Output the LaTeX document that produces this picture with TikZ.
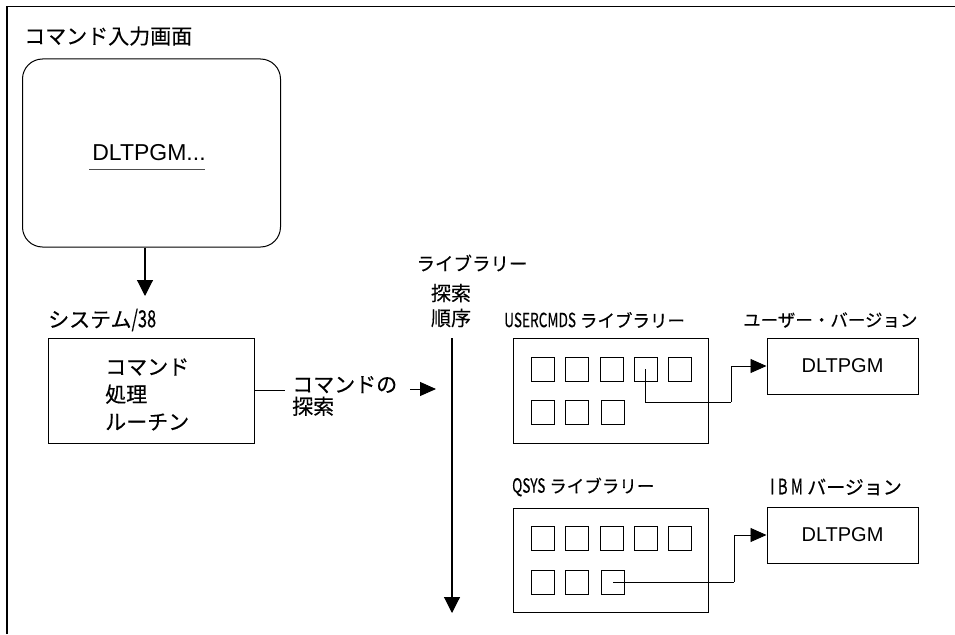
\documentclass[tikz,border=0pt]{standalone}
\usepackage{fontspec}
\usepackage{graphicx}
\setmainfont{Liberation Sans}
\newfontfamily\jp[FakeBold=0.3]{Noto Sans CJK JP}
\usetikzlibrary{arrows.meta}
\newcommand\nar[1]{\scalebox{0.78}[1.12]{#1}}
\newcommand\fs[1]{\fontsize{#1}{#1}\selectfont}
\begin{document}
\begin{tikzpicture}[x=1pt,y=-1pt,
  lbl/.style={inner sep=0pt,anchor=west,font=\jp\fs{20}},
  box/.style={draw,line width=1pt,inner sep=0pt},
  sq/.style={draw,line width=0.9pt,minimum width=23pt,minimum height=24pt,inner sep=0pt},
  conn/.style={line width=0.9pt},
  bigarrow/.style={line width=1.1pt,-{Triangle[width=16pt,length=16pt]}},
  smallarrow/.style={line width=0.9pt,-{Triangle[width=14pt,length=16pt]}}]
\useasboundingbox (0,0) rectangle (955,634);
% frame
\draw[line width=1.3pt] (7,634) -- (7,6.5) -- (955,6.5);
% title
\node[lbl,font=\jp\fs{21}] (title) at (24,36) {コマンド入力画面};
% screen
\node[draw,line width=1pt,rounded corners=20pt,minimum width=258pt,minimum height=188pt,inner sep=0pt] (screen) at (151.5,153) {};
\node[inner sep=0pt,font=\fs{23}] (cmd) at (149,153) {DLTPGM...};
\draw[line width=1pt,black!70] (89,169) coordinate (ul1) -- (205,169) coordinate (ul2);
\draw[bigarrow] (screen.south -| 145,0) coordinate (s1) -- (145,296) coordinate (s2);
% system/38
\node[lbl,font=\jp\fs{21}] (sys) at (48,320) {システム\nar{/38}};
\node[box,minimum width=206pt,minimum height=105pt] (proc) at (151,390.5) {};
\node[lbl,align=left,font=\jp\fontsize{21}{27.5}\selectfont] (proctext) at (105,394.5) {コマンド\\処理\\ルーチン};
\coordinate (p1) at (285,390);
\draw[conn] (proc.east |- p1) -- (p1);
\node[lbl,align=left,font=\jp\fontsize{21}{22}\selectfont] (search) at (292,396) {コマンドの\\探索};
\coordinate (a1) at (410,389);
\coordinate (a2) at (436,389);
\draw[smallarrow] (a1) -- (a2);
% search order
\node[inner sep=0pt,font=\jp\fs{18.5}] (lso1) at (472,263) {ライブラリー};
\node[inner sep=0pt,font=\jp\fs{20}] (lso2) at (451,293) {探索};
\node[inner sep=0pt,font=\jp\fs{20}] (lso3) at (451,318) {順序};
\coordinate (o1) at (452,338);
\coordinate (o2) at (452,613);
\draw[bigarrow] (o1) -- (o2);
% USERCMDS library
\node[lbl,font=\jp\fs{17.5}] (ulib) at (504,320) {\nar{USERCMDS} ライブラリー};
\node[box,minimum width=195pt,minimum height=105pt] (ubox) at (610.5,390.5) {};
\foreach \i/\x in {1/542.5,2/576.5,3/611.5,4/645.5,5/679.5}
  \node[sq] (u\i) at (\x,369) {};
\foreach \i/\x in {6/542.5,7/577,8/613}
  \node[sq] (u\i) at (\x,412) {};
\node[lbl,font=\jp\fs{17.5}] (uvl) at (743,320) {ユーザー・バージョン};
\node[box,minimum width=151pt,minimum height=56pt,font=\fs{20}] (uv) at (842.5,366) {DLTPGM};
\coordinate (ujog) at (731,402);
\draw[conn] (u4.center) |- (ujog);
\draw[smallarrow] (ujog) |- (uv.west);
% QSYS library
\node[lbl,font=\jp\fs{17.5}] (qlib) at (512,487) {\nar{QSYS} ライブラリー};
\node[box,minimum width=195pt,minimum height=104pt] (qbox) at (610.5,560) {};
\foreach \i/\x in {1/542.5,2/576.5,3/611.5,4/645.5,5/679.5}
  \node[sq] (q\i) at (\x,538) {};
\foreach \i/\x in {6/542.5,7/577,8/613}
  \node[sq] (q\i) at (\x,582) {};
\node[lbl,font=\jp\fs{19}] (ibml) at (770,487) {\nar{I B M} バージョン};
\node[box,minimum width=151pt,minimum height=56pt,font=\fs{20}] (ibm) at (842.5,535) {DLTPGM};
\coordinate (qjog) at (734,582);
\draw[conn] (q8.center) -- (qjog);
\draw[smallarrow] (qjog) |- (ibm.west);
\end{tikzpicture}
\end{document}
